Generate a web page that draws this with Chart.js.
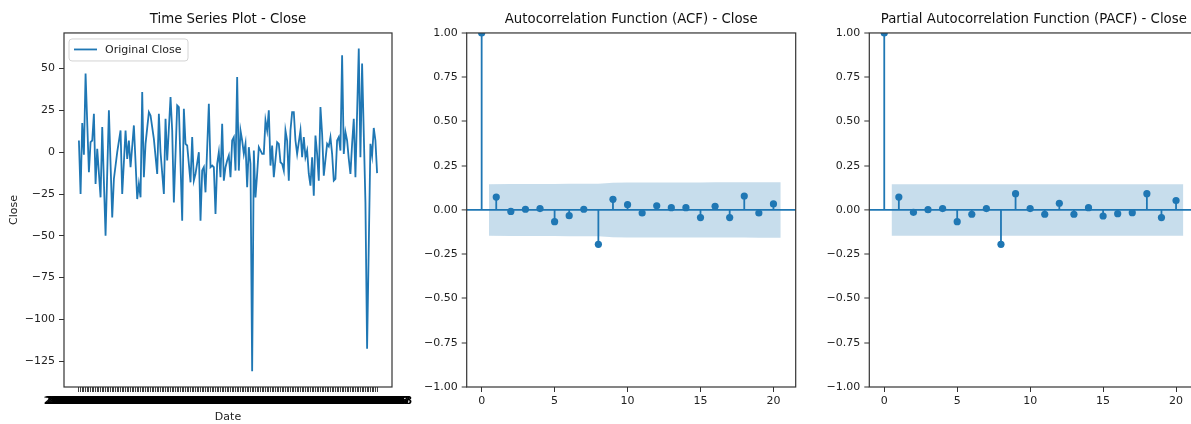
<!DOCTYPE html>
<html>
<head>
<meta charset="utf-8">
<script src="https://cdn.jsdelivr.net/npm/chart.js@4.4.1/dist/chart.umd.min.js"></script>
<style>
  html, body { margin: 0; padding: 0; background: #fff; overflow: hidden; }
  #wrap { position: relative; width: 1191px; height: 424px; overflow: hidden; }
  canvas { position: absolute; top: 0; }
</style>
</head>
<body>
<div id="wrap">
  <canvas id="ts" width="420" height="424" style="left:0"></canvas>
  <canvas id="acf" width="420" height="424" style="left:400px"></canvas>
  <canvas id="pacf" width="400" height="424" style="left:820px"></canvas>
</div>
<script>
// --- data ---

// day index of each plotted point (out of 180 trading days) and its differenced Close value
const dayIndex = [0, 1, 2, 3, 4, 6, 7, 8, 9, 10, 11, 13, 14, 16, 18, 20, 21, 23, 25, 26,
  28, 29, 30, 31, 33, 35, 36, 37, 38, 39, 40, 42, 43, 45, 47, 48, 49, 51, 52, 53,
  55, 56, 57, 59, 60, 62, 63, 64, 65, 67, 68, 69, 70, 72, 73, 74, 75, 76, 78, 79,
  80, 81, 82, 83, 84, 85, 86, 87, 88, 89, 90, 91, 92, 93, 94, 95, 96, 97, 98, 99,
  100, 101, 102, 103, 104, 105, 106, 107, 108, 110, 111, 112, 113, 114, 115, 116, 117, 119, 120, 121,
  122, 123, 124, 125, 126, 127, 128, 129, 130, 131, 133, 134, 135, 136, 137, 138, 139, 140, 141, 142,
  143, 144, 145, 146, 147, 149, 150, 151, 152, 153, 154, 155, 156, 157, 158, 159, 160, 161, 162, 163,
  164, 165, 166, 168, 169, 170, 172, 173, 175, 176, 177, 178, 179];

const closeValues = [7, -25, 17.5, -1.5, 47, -12, 6, 7, 23, -19, 2, -27, 15, -50, 25, -39, -16, 0, 13, -25,
  13, -4, 7, -9, 16, -28, -19, -27, 36, -15, 5, 24, 22, 8, -13, 23, 0, -25, 20, -5,
  33, 13, -30, 28, 27, -41, 26, 5, 4, -18, 9, -17, -13, 0, -41, -11, -9, -24, 29, -9,
  -8, -9, -37, -7, 0, -15, 17, -17, -9, -5, -2, -15, 7, 9, -11, 45, -11, 13, 7, -1,
  5, -21, 3, -7, -131, 1, -27, -13, 3, -1, -1, 19, 13, 25, -8, 4, -15, 6, 5, -6,
  -7, -11, 13, 7, -17, 13, 24, 24, 7, -1, 13, -3, 9, -3, 1, -13, -20, -3, -26, 10,
  -1, -17, 27, 11, -14, 5, 3.5, 9, -1, -17, -16, 7, 9, 1, 58, -1, 12, 7, -4, -13,
  5, 20, -15, 62, -3, 53, -30, -117.5, 5, -2, 14.5, 7, -12.5];

// trading-day tick labels (they overlap into a solid band, as in the original)
const dateLabels = [];
for (let d = new Date(Date.UTC(2023, 0, 2)); dateLabels.length < 180; d.setUTCDate(d.getUTCDate() + 1)) {
  const wd = d.getUTCDay();
  if (wd === 0 || wd === 6) continue;
  dateLabels.push(d.toISOString().slice(0, 10));
}

const lags = [0, 1, 2, 3, 4, 5, 6, 7, 8, 9, 10, 11, 12, 13, 14, 15, 16, 17, 18, 19, 20];
const lagTicks = [0, 5, 10, 15, 20];
const corrTicks = [-1, -0.75, -0.5, -0.25, 0, 0.25, 0.5, 0.75, 1];
const acfValues = [1, 0.073, -0.008, 0.004, 0.008, -0.066, -0.032, 0.004, -0.194, 0.060, 0.030,
  -0.017, 0.024, 0.013, 0.013, -0.043, 0.021, -0.043, 0.079, -0.017, 0.034];
const pacfValues = [1, 0.073, -0.013, 0.002, 0.008, -0.066, -0.024, 0.008, -0.194, 0.092, 0.008,
  -0.024, 0.038, -0.024, 0.013, -0.034, -0.021, -0.015, 0.092, -0.043, 0.053];
// 95% confidence half-width for lags 1..20
const acfBand = [0.146, 0.147, 0.147, 0.147, 0.147, 0.148, 0.148, 0.148, 0.154, 0.155,
  0.155, 0.155, 0.155, 0.155, 0.155, 0.156, 0.156, 0.156, 0.157, 0.157];
const pacfBand = [0.146, 0.146, 0.146, 0.146, 0.146, 0.146, 0.146, 0.146, 0.146, 0.146,
  0.146, 0.146, 0.146, 0.146, 0.146, 0.146, 0.146, 0.146, 0.146, 0.146];

// --- styling ---
const BLUE = '#1f77b4';
const BAND = 'rgba(31,119,180,0.25)';
Chart.defaults.font.family = "'DejaVu Sans', sans-serif";
Chart.defaults.font.size = 11;
Chart.defaults.color = '#222';

const fmt = (v, d) => (v < -1e-9 ? '\u2212' : '') + Math.abs(v).toFixed(d);

// matplotlib-like box round every axes
const framePlugin = {
  id: 'frame',
  afterDraw(chart) {
    const { ctx, chartArea: a } = chart;
    ctx.save();
    ctx.strokeStyle = '#333';
    ctx.lineWidth = 1.2;
    ctx.strokeRect(a.left, a.top, a.right - a.left, a.bottom - a.top);
    ctx.restore();
  }
};

// legend box drawn inside the plot, upper left
const legendInside = {
  id: 'legendInside',
  afterDatasetsDraw(chart) {
    const { ctx, chartArea: a } = chart;
    const ds = chart.data.datasets[0];
    const x = a.left + 5, y = a.top + 6, w = 119, h = 22;
    ctx.save();
    ctx.beginPath();
    ctx.roundRect(x, y, w, h, 3);
    ctx.fillStyle = 'rgba(255,255,255,0.8)';
    ctx.fill();
    ctx.strokeStyle = '#d4d4d4';
    ctx.lineWidth = 1;
    ctx.stroke();
    ctx.strokeStyle = ds.borderColor;
    ctx.lineWidth = 1.8;
    ctx.beginPath();
    ctx.moveTo(x + 5, y + 10.5);
    ctx.lineTo(x + 28, y + 10.5);
    ctx.stroke();
    ctx.fillStyle = '#222';
    ctx.font = "11px 'DejaVu Sans'";
    ctx.textBaseline = 'middle';
    ctx.fillText(ds.label, x + 36, y + 11);
    ctx.restore();
  }
};

function titleOpts(text) {
  return {
    display: true, text, fullSize: false, color: '#111',
    font: { size: 13.3, weight: 'normal' },
    padding: { top: 12, bottom: 5 }
  };
}

// --- Time series plot ---
const nDays = dateLabels.length;
new Chart(document.getElementById('ts'), {
  type: 'line',
  data: {
    datasets: [{
      label: 'Original Close',
      data: dayIndex.map((d, i) => ({ x: d, y: closeValues[i] })),
      borderColor: BLUE,
      borderWidth: 1.8,
      pointRadius: 0,
      tension: 0
    }]
  },
  options: {
    responsive: false, animation: false, events: [], devicePixelRatio: 1,
    layout: { padding: { right: 28 } },
    plugins: { legend: { display: false }, tooltip: { enabled: false }, title: titleOpts('Time Series Plot - Close') },
    scales: {
      x: {
        type: 'linear', min: -0.05 * (nDays - 1), max: 1.05 * (nDays - 1),
        border: { display: false },
        grid: { drawOnChartArea: false, tickLength: 5, tickColor: '#444', tickWidth: 1 },
        ticks: {
          autoSkip: false, maxRotation: 0, minRotation: 0,
          padding: 3, color: '#000', font: { weight: 'bold' },
          callback: v => dateLabels[v] ?? ''
        },
        afterBuildTicks: s => { s.ticks = dateLabels.map((_, i) => ({ value: i })); },
        afterFit: s => { s.height = 37; },
        title: { display: true, text: 'Date', padding: 0, color: '#222' }
      },
      y: {
        min: -140.4, max: 71.3,
        border: { display: false },
        grid: { drawOnChartArea: false, tickLength: 5, tickColor: '#333' },
        ticks: { padding: 4, callback: v => fmt(v, 0) },
        afterBuildTicks: s => { s.ticks = [-125, -100, -75, -50, -25, 0, 25, 50].map(v => ({ value: v })); },
        afterFit: s => { s.width = 64; },
        title: { display: true, text: 'Close', padding: { top: 8, bottom: 0 }, color: '#222' }
      }
    }
  },
  plugins: [framePlugin, legendInside]
});

// --- ACF / PACF stem plots ---
function corrChart(id, title, vals, band, yWidth, padRight) {
  const inner = lags.slice(1);
  const bandX = inner.map((l, i) => i === 0 ? l - 0.5 : (i === inner.length - 1 ? l + 0.5 : l));
  // each stem is a vertical segment from 0 to the value, separated by gaps
  const stems = lags.flatMap((l, i) => [{ x: l, y: 0 }, { x: l, y: vals[i] }, { x: l, y: null }]);
  return new Chart(document.getElementById(id), {
    type: 'scatter',
    data: {
      datasets: [
        { type: 'scatter', data: lags.map((l, i) => ({ x: l, y: vals[i] })),
          pointRadius: 3.6, backgroundColor: BLUE, borderWidth: 0 },
        { type: 'line', data: stems, spanGaps: false, borderColor: BLUE, borderWidth: 1.8,
          pointRadius: 0, fill: false },
        { type: 'line', data: bandX.map((x, i) => ({ x, y: band[i] })), fill: '+1',
          backgroundColor: BAND, borderColor: 'rgba(0,0,0,0)', borderWidth: 0, pointRadius: 0 },
        { type: 'line', data: bandX.map((x, i) => ({ x, y: -band[i] })), fill: false,
          borderColor: 'rgba(0,0,0,0)', borderWidth: 0, pointRadius: 0 }
      ]
    },
    options: {
      responsive: false, animation: false, events: [], devicePixelRatio: 1,
      layout: { padding: { right: padRight } },
      plugins: { legend: { display: false }, tooltip: { enabled: false }, title: titleOpts(title) },
      scales: {
        x: {
          type: 'linear', min: -1.025, max: 21.525,
          border: { display: false },
          grid: { drawOnChartArea: false, tickLength: 5, tickColor: '#333' },
          ticks: { maxRotation: 0, padding: 3 },
          afterBuildTicks: s => { s.ticks = lagTicks.map(v => ({ value: v })); },
          afterFit: s => { s.height = 37; }
        },
        y: {
          min: -1, max: 1,
          border: { display: false },
          grid: {
            color: c => (c.tick && Math.abs(c.tick.value) < 1e-9) ? BLUE : 'rgba(0,0,0,0)',
            lineWidth: c => (c.tick && Math.abs(c.tick.value) < 1e-9) ? 1.8 : 0,
            tickColor: '#333', tickWidth: 1, tickLength: 5
          },
          ticks: { padding: 4, callback: v => fmt(v, 2) },
          afterBuildTicks: s => { s.ticks = corrTicks.map(v => ({ value: v })); },
          afterFit: s => { s.width = yWidth; }
        }
      }
    },
    plugins: [framePlugin]
  });
}

corrChart('acf', 'Autocorrelation Function (ACF) - Close', acfValues, acfBand, 66.7, 24.3);
corrChart('pacf', 'Partial Autocorrelation Function (PACF) - Close', pacfValues, pacfBand, 49.3, 21.7);
</script>
</body>
</html>
